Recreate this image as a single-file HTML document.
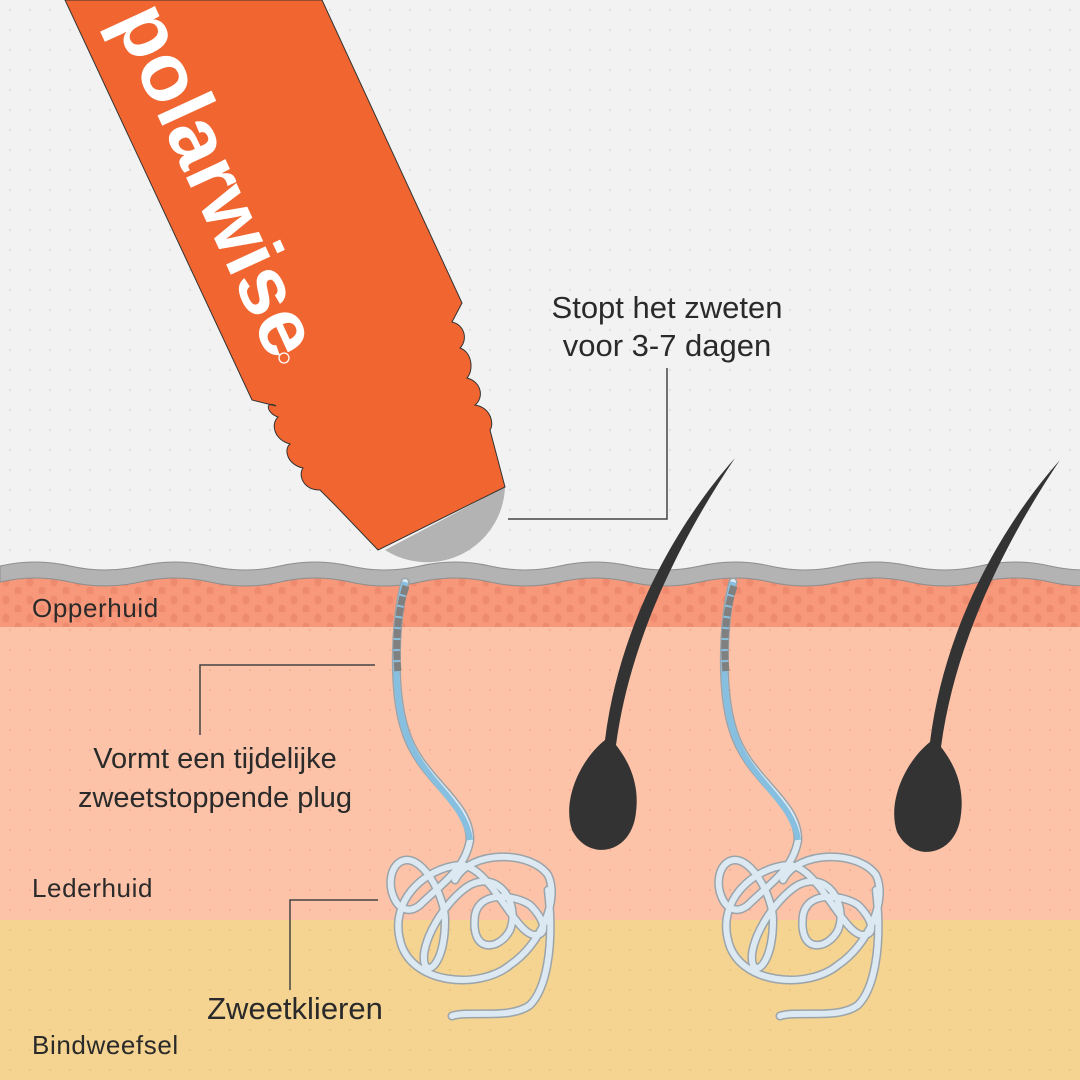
<!DOCTYPE html>
<html><head><meta charset="utf-8"><style>
html,body{margin:0;padding:0;background:#f2f2f2}
svg{display:block}
text{font-family:"Liberation Sans",sans-serif;fill:#2a2a2a}
</style></head><body>
<svg width="1080" height="1080" viewBox="0 0 1080 1080" xmlns="http://www.w3.org/2000/svg">
<defs>
<pattern id="pbg" width="20" height="20" patternUnits="userSpaceOnUse"><rect width="20" height="20" fill="#f2f2f2"/><circle cx="10" cy="10" r="1" fill="#dcdcdc"/></pattern>
<pattern id="pep" width="24" height="18" patternUnits="userSpaceOnUse"><rect width="24" height="18" fill="#f7987a"/><ellipse cx="6" cy="6" rx="3.5" ry="4.5" fill="#ee8a6e"/><ellipse cx="18" cy="15" rx="3.5" ry="4.5" fill="#ee8a6e"/></pattern>
<pattern id="pde" width="20" height="20" patternUnits="userSpaceOnUse"><rect width="20" height="20" fill="#fdc3a8"/><circle cx="10" cy="10" r="1" fill="#f0ad92"/></pattern>
<pattern id="psu" width="20" height="20" patternUnits="userSpaceOnUse"><rect width="20" height="20" fill="#f5d391"/><circle cx="10" cy="10" r="1.2" fill="#f0c782"/></pattern>
<g id="gland">
<path d="M405,582 C395,620 392,690 405,730 C420,780 470,800 470,840 C465,870 440,885 420,905 C395,925 380,875 400,862 C420,850 445,895 445,920 C445,960 430,975 425,965 C418,945 445,900 470,885 C500,870 520,905 510,930 C500,950 470,955 475,915 C480,890 515,895 530,905 C545,920 548,935 535,935 C515,935 490,865 460,865 C425,868 390,900 400,940 C410,985 480,990 510,965 C540,945 560,900 548,875 C530,850 470,850 455,880 M548,890 C555,950 545,990 530,1005 C510,1020 470,1010 452,1016" fill="none" stroke="#9aa4aa" stroke-width="9" stroke-linecap="round"/>
<path d="M405,582 C395,620 392,690 405,730 C420,780 470,800 470,840 C465,870 440,885 420,905 C395,925 380,875 400,862 C420,850 445,895 445,920 C445,960 430,975 425,965 C418,945 445,900 470,885 C500,870 520,905 510,930 C500,950 470,955 475,915 C480,890 515,895 530,905 C545,920 548,935 535,935 C515,935 490,865 460,865 C425,868 390,900 400,940 C410,985 480,990 510,965 C540,945 560,900 548,875 C530,850 470,850 455,880 M548,890 C555,950 545,990 530,1005 C510,1020 470,1010 452,1016" fill="none" stroke="#dce9f2" stroke-width="6" stroke-linecap="round"/>
<path d="M405,582 C395,620 392,690 405,730 C420,780 465,800 470,840" fill="none" stroke="#86bfe0" stroke-width="6"/>
<path d="M406,586 C398,610 395,640 398,672" fill="none" stroke="#808080" stroke-width="7" stroke-dasharray="9,2"/>
</g>
<path id="hair" d="M735,458 C680,520 620,620 605,740 C580,760 562,800 572,830 C588,862 632,855 636,812 C640,780 626,758 616,745 C630,640 680,540 735,458 Z" fill="#333"/>
</defs>
<rect width="1080" height="1080" fill="url(#pbg)"/>
<rect y="575" width="1080" height="55" fill="url(#pep)"/>
<rect y="627" width="1080" height="295" fill="url(#pde)"/>
<rect y="920" width="1080" height="160" fill="url(#psu)"/>
<path d="M0,566 Q35,558 70,566 T140,566 T210,566 T280,566 T350,566 T420,566 T490,566 T560,566 T630,566 T700,566 T770,566 T840,566 T910,566 T980,566 T1050,566 T1120,566 L1120,582 Q1085,590 1050,582 T980,582 T910,582 T840,582 T770,582 T700,582 T630,582 T560,582 T490,582 T420,582 T350,582 T280,582 T210,582 T140,582 T70,582 T0,582 Z" fill="#b3b3b3" stroke="#8e8e8e" stroke-width="1"/>
<use href="#gland"/>
<use href="#gland" transform="translate(328,0)"/>
<use href="#hair"/>
<use href="#hair" transform="translate(325,2)"/>
<!-- bottle -->
<path d="M505,487 A78,78 0 0 1 385,550 Z" fill="#b3b3b3"/>
<path d="M65,0 L322,0 L462,303 L452,322 C465,325 468,340 460,348 C472,352 474,370 467,378 C482,382 484,398 475,405 C492,408 494,425 490,430 L505,487 L378,550 L335,505 L320,490 C303,490 298,475 303,468 C288,465 283,450 290,444 C275,440 270,425 278,417 C266,413 265,400 276,406 L252,400 Z" fill="#f06530" stroke="#333" stroke-width="1"/>
<text transform="translate(212,182) rotate(65.3)" text-anchor="middle" dominant-baseline="middle" font-size="82" font-weight="bold" style="fill:#fff" x="0" y="0">polarwise</text>
<circle cx="284" cy="358" r="5" fill="none" stroke="#fff" stroke-width="1.3"/>
<!-- connectors -->
<polyline points="508,519 667,519 667,368" fill="none" stroke="#444" stroke-width="1.5"/>
<polyline points="200,735 200,665 375,665" fill="none" stroke="#444" stroke-width="1.5"/>
<polyline points="290,990 290,900 378,900" fill="none" stroke="#444" stroke-width="1.5"/>
<text x="667" y="318" font-size="31" text-anchor="middle">Stopt het zweten</text>
<text x="667" y="356" font-size="31" text-anchor="middle">voor 3-7 dagen</text>
<text x="215" y="768" font-size="29" text-anchor="middle">Vormt een tijdelijke</text>
<text x="215" y="807" font-size="29" text-anchor="middle">zweetstoppende plug</text>
<text x="295" y="1019" font-size="31" text-anchor="middle">Zweetklieren</text>
<text x="32" y="617" font-size="26" letter-spacing="0.6">Opperhuid</text>
<text x="32" y="897" font-size="26" letter-spacing="0.6">Lederhuid</text>
<text x="32" y="1054" font-size="26" letter-spacing="0.6">Bindweefsel</text>
</svg>
</body></html>
